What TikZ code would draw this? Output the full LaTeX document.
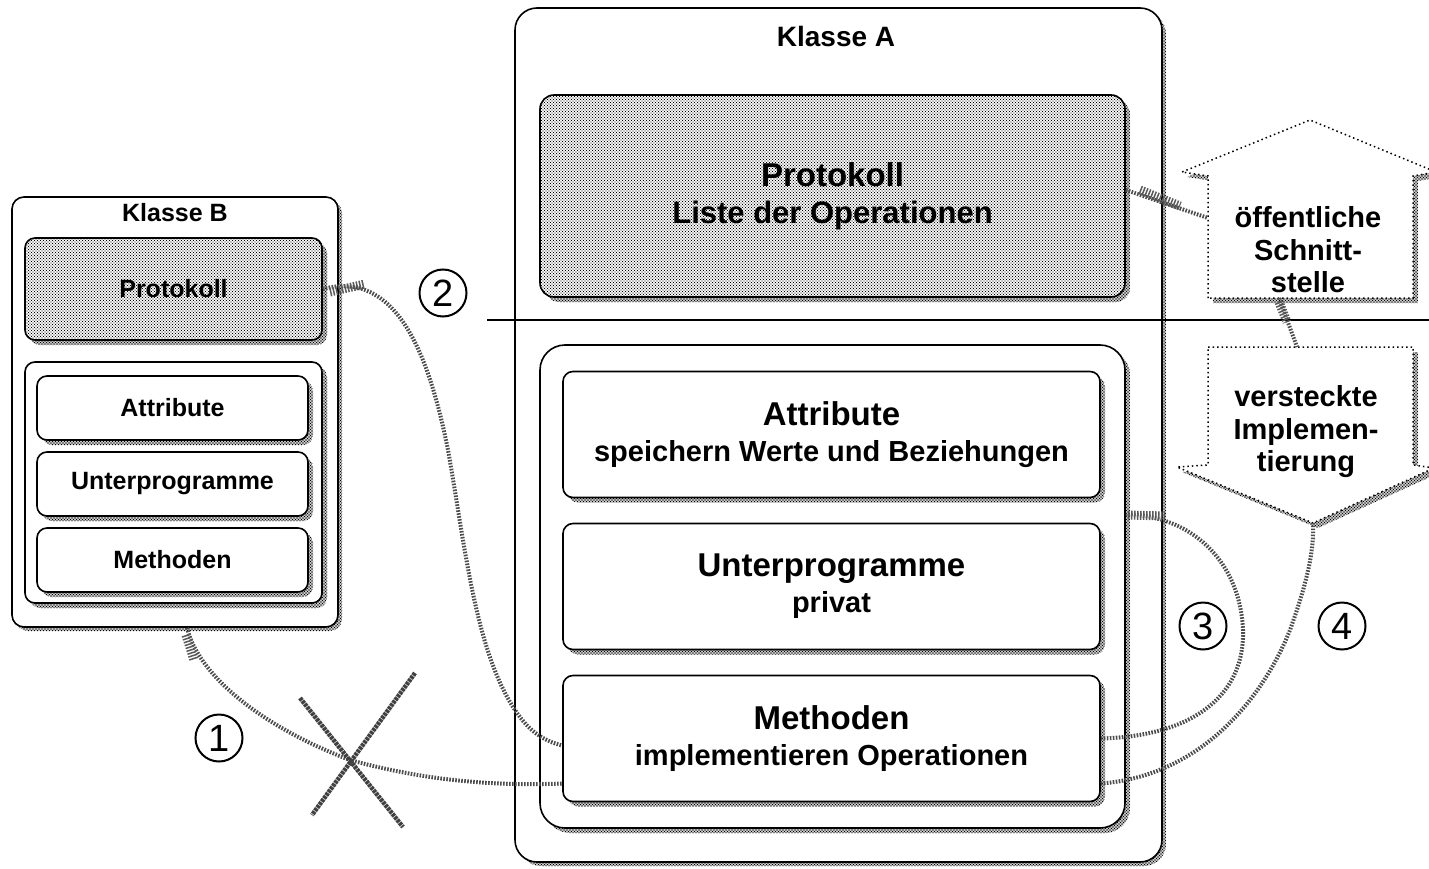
\documentclass[tikz,border=0pt]{standalone}
\usepackage{fontspec}
\setmainfont{Liberation Sans}
\usetikzlibrary{shadows,patterns,calc}

% halftone-like dot screens used for shadows and the protocol fields
\pgfdeclarepatternformonly{dither}{\pgfqpoint{-1pt}{-1pt}}{\pgfqpoint{4pt}{4pt}}{\pgfqpoint{3pt}{3pt}}{%
  \pgfpathcircle{\pgfqpoint{0pt}{0pt}}{0.8pt}%
  \pgfpathcircle{\pgfqpoint{1.5pt}{1.5pt}}{0.8pt}%
  \pgfusepath{fill}}
\pgfdeclarepatternformonly{lightdither}{\pgfqpoint{-1pt}{-1pt}}{\pgfqpoint{4pt}{4pt}}{\pgfqpoint{3pt}{3pt}}{%
  \pgfpathcircle{\pgfqpoint{0pt}{0pt}}{0.62pt}%
  \pgfpathcircle{\pgfqpoint{1.5pt}{1.5pt}}{0.62pt}%
  \pgfusepath{fill}}

\newcommand{\hdA}{\fontsize{33}{36}\selectfont}
\newcommand{\hdTitle}{\fontsize{28}{32}\selectfont}

\begin{document}
\begin{tikzpicture}[x=1pt,y=-1pt,
  dshadow/.style={general shadow={shadow xshift=#1, shadow yshift=-#1, pattern=dither}},
  dshadow/.default=5pt,
  frame/.style={draw, line width=1.6pt, fill=white, inner sep=0pt, align=center},
  part/.style={frame, dshadow, rounded corners=10pt},
  proto/.style={draw, line width=1.6pt, inner sep=0pt, align=center, dshadow,
                preaction={fill=white}, pattern=lightdither},
  partA/.style={part, minimum width=537pt, minimum height=126pt,
                font=\bfseries\fontsize{29}{36}\selectfont},
  partB/.style={part, minimum width=271pt, minimum height=64pt,
                font=\bfseries\fontsize{25}{28}\selectfont},
  title/.style={inner sep=0pt, font=\bfseries\hdTitle},
  atext/.style={inner sep=0pt, align=center, font=\bfseries\fontsize{29}{32.5}\selectfont},
  blockarrow/.style={draw, line width=1.5pt, dash pattern=on 1.5pt off 3pt, fill=white, dshadow=5pt},
  link/.style={draw=black!70, line width=4pt, dash pattern=on 1.6pt off 1.4pt},
  port/.style={draw=black!65, line width=9pt, dash pattern=on 1.5pt off 1.5pt},
  xmark/.style={draw=black!75, line width=4.5pt, dash pattern=on 3pt off 0.8pt},
  num/.style={circle, draw, line width=2pt, minimum size=47pt, inner sep=0pt,
              font=\fontsize{38}{40}\selectfont}
]
\useasboundingbox (0,0) rectangle (1429,869);

% ---------------- Klasse A ----------------
\node[frame, rounded corners=22pt, minimum width=647pt, minimum height=854pt, dshadow=4pt] (kA) at (838.5,435) {};
\node[title] (tA) at (836,36) {Klasse A};

\node[proto, rounded corners=14pt, minimum width=585pt, minimum height=202pt,
      font=\bfseries\fontsize{31}{37}\selectfont] (protA) at (832.5,196)
      {{\hdA Protokoll}\\Liste der Operationen};

% public / private separator
\coordinate (sepL) at (487,320);
\coordinate (sepR) at (1429,320);
\draw[line width=2pt] (sepL) -- (sepR);

\node[part, rounded corners=25pt, minimum width=585pt, minimum height=483pt] (grpA) at (832.5,586.5) {};
\node[partA] (attrA) at (831.5,434.5) {{\hdA Attribute}\\speichern Werte und Beziehungen};
\node[partA] (upA)   at (831.5,586.5) {{\hdA Unterprogramme}\\privat};
\node[partA] (methA) at (831.5,738.5) {{\hdA Methoden}\\implementieren Operationen};

% ---------------- Klasse B ----------------
\node[frame, rounded corners=12pt, minimum width=326pt, minimum height=430pt, dshadow=4pt] (kB) at (175,412) {};
\node[title, font=\bfseries\fontsize{25}{28}\selectfont] (tB) at (175,213) {Klasse B};
\node[proto, rounded corners=10pt, minimum width=297pt, minimum height=102pt,
      font=\bfseries\fontsize{25}{28}\selectfont] (protB) at (173.5,289) {Protokoll};
\node[part, minimum width=297pt, minimum height=241pt] (grpB) at (173.5,482.5) {};
\node[partB] (attrB) at (172.5,408) {Attribute};
\node[partB] (upB)   at (172.5,484) {Unterprogramme};
\node[partB] (methB) at (172.5,560) {Methoden};

% ---------------- interface arrows ----------------
\draw[blockarrow] (1208,298) -- (1208,176) -- (1182,172) -- (1310,120) -- (1436,172)
  -- (1413,176) -- (1413,298) -- cycle;
\node[atext] (pub) at (1308,250) {öffentliche\\Schnitt-\\stelle};
\coordinate (pubW) at (1208,218);
\coordinate (pubB) at (1279,298);

\draw[blockarrow] (1208,347) -- (1413,347) -- (1413,465) -- (1434,468) -- (1313,523)
  -- (1177,467) -- (1208,465) -- cycle;
\node[atext] (impl) at (1306,432) {versteckte\\Implemen-\\tierung};
\coordinate (implT) at (1297,347);
\coordinate (implTip) at (1313,523);

% ---------------- connectors ----------------
\draw[link] ([xshift=12pt]kB.south) .. controls (200,680) and (270,730) .. (350,760)
  .. controls (430,782) and (500,786) .. ([yshift=-45pt]methA.west);
\draw[link] (protB.east) .. controls (395,270) and (428,350) .. (448,450)
  .. controls (465,545) and (475,650) .. (515,710)
  .. controls (530,733) and (545,741) .. ([yshift=-7pt]methA.west);
\draw[link] (methA.east) .. controls (1200,736) and (1245,690) .. (1243,630)
  .. controls (1240,560) and (1190,515) .. ([yshift=72pt]grpA.east);
\draw[link] ([yshift=-45pt]methA.east) .. controls (1200,776) and (1262,700) .. (1290,630)
  .. controls (1308,580) and (1314,550) .. (implTip);
\draw[link] ([yshift=6pt]protA.east) -- (pubW);
\draw[link] (pubB) -- (implT);

% hatched ports where the connectors leave a class
\coordinate (pB1) at (330,292);
\coordinate (pB2) at (365,284);
\coordinate (pK1) at (186,635);
\coordinate (pK2) at (194,660);
\coordinate (pA1) at (1140,190);
\coordinate (pA2) at (1180,206);
\coordinate (pG1) at (1128,515);
\coordinate (pG2) at (1165,516);
\coordinate (pP1) at (1279,302);
\coordinate (pP2) at (1287,322);
\draw[port] (pB1) -- (pB2);
\draw[port] (pK1) -- (pK2);
\draw[port] (pA1) -- (pA2);
\draw[port] (pG1) -- (pG2);
\draw[port] (pP1) -- (pP2);

% crossed-out direct access
\coordinate (xa1) at (300,698);
\coordinate (xa2) at (403,827);
\coordinate (xb1) at (415,673);
\coordinate (xb2) at (312,815);
\draw[xmark] (xa1) -- (xa2);
\draw[xmark] (xb1) -- (xb2);

% numbered markers
\node[num] (n1) at (219,738) {1};
\node[num] (n2) at (443,293) {2};
\node[num] (n3) at (1203,626) {3};
\node[num] (n4) at (1342,626) {4};
\end{tikzpicture}
\end{document}
